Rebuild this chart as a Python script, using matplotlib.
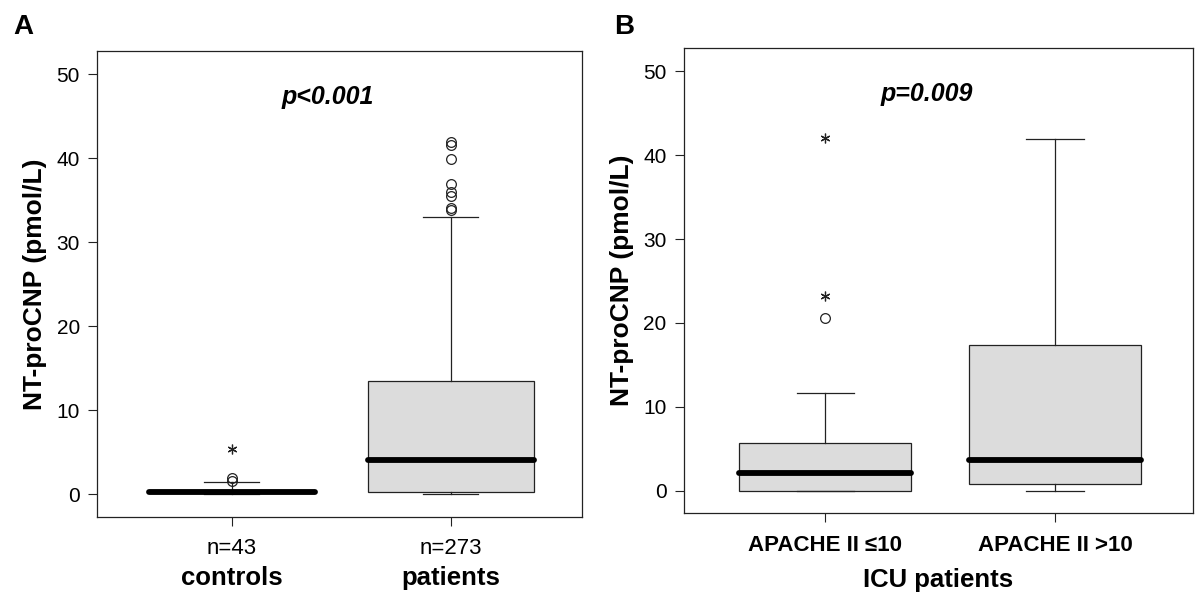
import matplotlib
matplotlib.use("Agg")
import matplotlib.pyplot as plt

plt.rcParams["font.family"] = ["Liberation Sans", "DejaVu Sans"]

# panel A: controls vs patients
a_groups = ["controls", "patients"]
a_counts = ["n=43", "n=273"]
a_q1 = [0.15, 0.3]
a_med = [0.3, 4.1]
a_q3 = [0.45, 13.45]
a_whislo = [0.05, 0.0]
a_whishi = [1.4, 33.0]
a_circles = [[1.6, 1.9], [33.8, 34.1, 35.5, 36.0, 37.0, 39.9, 41.65, 42.0]]
a_stars = [[5.4], []]
a_p = "p<0.001"

# panel B: ICU patients by APACHE II score
b_groups = ["APACHE II ≤10", "APACHE II >10"]
b_q1 = [0.0, 0.75]
b_med = [2.1, 3.6]
b_q3 = [5.65, 17.35]
b_whislo = [0.0, 0.0]
b_whishi = [11.7, 41.9]
b_circles = [[20.6], []]
b_stars = [[23.2, 42.0], []]
b_p = "p=0.009"

yticks = [0, 10, 20, 30, 40, 50]


def stats(q1, med, q3, lo, hi, fl):
    return [
        dict(q1=a, med=m, q3=b, whislo=l, whishi=h, fliers=f)
        for a, m, b, l, h, f in zip(q1, med, q3, lo, hi, fl)
    ]


def draw(ax, st, stars, width, p_text):
    pos = [1, 2]
    ax.bxp(
        st,
        positions=pos,
        widths=width,
        capwidths=0.25,
        patch_artist=True,
        boxprops=dict(facecolor="#dcdcdc", edgecolor="#222222", linewidth=0.9),
        whiskerprops=dict(color="#222222", linewidth=0.9),
        capprops=dict(color="#222222", linewidth=0.9),
        medianprops=dict(color="black", linewidth=4.2, solid_capstyle="round"),
        flierprops=dict(marker="o", markerfacecolor="none", markeredgecolor="#222222",
                        markersize=7, markeredgewidth=0.9),
    )
    for x, s in zip(pos, stars):
        if s:
            ax.plot([x] * len(s), s, linestyle="none", marker=(6, 2, 0),
                    markersize=7, color="#222222", markeredgewidth=0.9)
    ax.set_xlim(0.385, 2.6)
    ax.set_ylim(-2.7, 52.8)
    ax.set_yticks(yticks)
    ax.set_ylabel("NT-proCNP (pmol/L)", fontsize=19, fontweight="bold", labelpad=7)
    ax.tick_params(axis="both", direction="out", length=6.5, width=0.8,
                   labelsize=15, pad=6, color="#222222")
    ax.tick_params(axis="x", pad=9)
    for sp in ax.spines.values():
        sp.set_linewidth(0.9)
        sp.set_color("#222222")
    ax.text(1.44, 47.3, p_text, fontsize=18, fontweight="bold", fontstyle="italic",
            ha="center", va="center")


fig = plt.figure(figsize=(12, 6.06), dpi=100)
ax1 = fig.add_axes([0.081, 0.147, 0.404, 0.769])
ax2 = fig.add_axes([0.570, 0.153, 0.424, 0.768])

draw(ax1, stats(a_q1, a_med, a_q3, a_whislo, a_whishi, a_circles), a_stars, 0.76, a_p)
ax1.set_xticks([1, 2])
ax1.set_xticklabels(a_counts, fontsize=16)
for x, g in zip([1, 2], a_groups):
    ax1.text(x, -0.105, g, transform=ax1.get_xaxis_transform(), ha="center",
             va="top", fontsize=18.5, fontweight="bold")

draw(ax2, stats(b_q1, b_med, b_q3, b_whislo, b_whishi, b_circles), b_stars, 0.75, b_p)
ax2.set_xticks([1, 2])
ax2.set_xticklabels(b_groups, fontsize=16, fontweight="bold")
ax2.set_xlabel("ICU patients", fontsize=18.5, fontweight="bold", labelpad=9)

fig.text(0.011, 0.944, "A", fontsize=20, fontweight="bold")
fig.text(0.512, 0.944, "B", fontsize=20, fontweight="bold")

fig.savefig("out.png", dpi=100)
